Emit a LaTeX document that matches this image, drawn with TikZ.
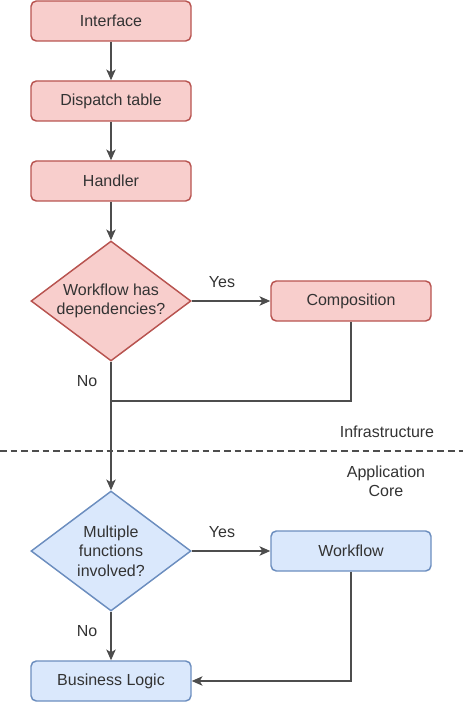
\documentclass[tikz,border=0pt]{standalone}
\usepackage{fontspec}
\setmainfont{Liberation Sans}
\usepackage{tikz}
\usetikzlibrary{arrows.meta, shapes.geometric}

\definecolor{redfill}{RGB}{248,206,204}
\definecolor{redline}{RGB}{184,84,80}
\definecolor{bluefill}{RGB}{218,232,252}
\definecolor{blueline}{RGB}{108,142,191}
\definecolor{edgegray}{RGB}{77,77,77}
\definecolor{txtgray}{RGB}{51,51,51}

\begin{document}
\begin{tikzpicture}[x=0.75pt,y=0.75pt,yscale=-1,
  every node/.style={font=\fontsize{12}{14.5}\selectfont, text=txtgray},
  redbox/.style={draw=redline, fill=redfill, line width=1.1pt, rounded corners=4pt, minimum width=120pt, minimum height=30pt},
  bluebox/.style={draw=blueline, fill=bluefill, line width=1.1pt, rounded corners=4pt, minimum width=120pt, minimum height=30pt},
  reddec/.style={diamond, aspect=1.333, inner sep=0pt, draw=redline, fill=redfill, line width=1.1pt, minimum width=120pt, minimum height=90pt, align=center},
  bluedec/.style={diamond, aspect=1.333, inner sep=0pt, draw=blueline, fill=bluefill, line width=1.1pt, minimum width=120pt, minimum height=90pt, align=center},
  flow/.style={draw=edgegray, line width=1.2pt, -{Stealth[length=8pt,width=7pt,inset=2pt]}},
  plain/.style={draw=edgegray, line width=1.2pt}]
\useasboundingbox (0,0) rectangle (463,702);

\node (iface) at (111,21) [redbox] {Interface};
\node (dtab) at (111,101) [redbox] {Dispatch table};
\node (hand) at (111,181) [redbox] {Handler};
\node (hasdep) at (111,301) [reddec] {Workflow has\\dependencies?};
\node (comp) at (351,301) [redbox] {Composition};
\coordinate (merge) at (111,401);

\node (multi) at (111,551) [bluedec] {Multiple\\functions\\involved?};
\node (wflow) at (351,551) [bluebox] {Workflow};
\node (blogic) at (111,681) [bluebox] {Business Logic};

\draw [flow] (iface) -- (dtab);
\draw [flow] (dtab) -- (hand);
\draw [flow] (hand) -- (hasdep);
\draw [flow] (hasdep) -- (comp);
\draw [plain] (comp.south) |- (merge);
\draw [flow] (hasdep.south) -- (multi.north);
\draw [flow] (multi) -- (wflow);
\draw [flow] (multi) -- (blogic);
\draw [flow] (wflow.south) |- (blogic.east);

% Text Node
\node (yes1) at (222,282) {Yes};
\node (no1) at (87,381) {No};
\node (yes2) at (222,532) {Yes};
\node (no2) at (87,631) {No};

% layer split
\coordinate (splitL) at (0,451);
\coordinate (splitR) at (463,451);
\draw [edgegray, line width=1.1pt, dash pattern=on 5pt off 3pt] (splitL) -- (splitR);
\node (infra) at (387,432) {Infrastructure};
\node (appcore) at (386,481) [align=center] {Application\\Core};

\end{tikzpicture}
\end{document}
